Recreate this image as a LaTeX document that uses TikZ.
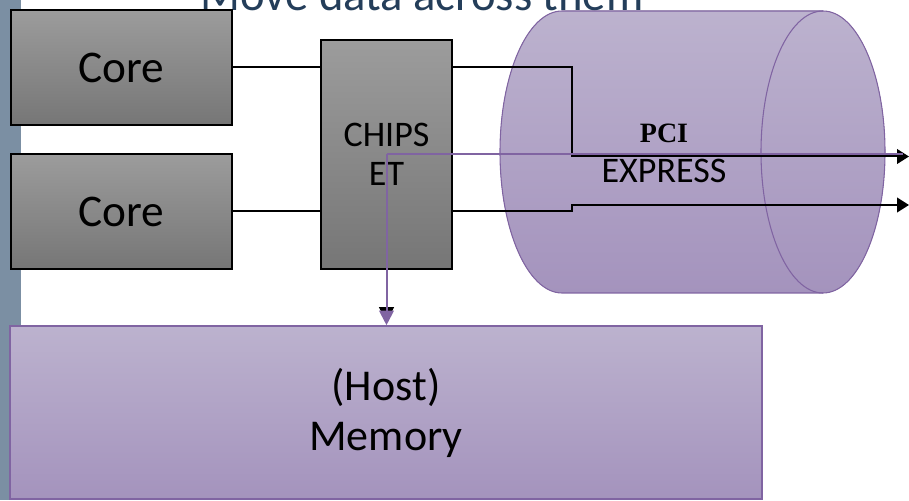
\documentclass[tikz,border=0pt]{standalone}
\usepackage{fontspec}
\setmainfont{Carlito}
\newfontfamily\pcifont{Liberation Serif}
\usepackage{xcolor}
\usepackage{tikz}
\usetikzlibrary{arrows.meta}
\definecolor{slidestrip}{RGB}{123, 143, 163}
\definecolor{titleblue}{RGB}{36, 62, 90}
\definecolor{boxtop}{RGB}{156, 156, 156}
\definecolor{boxbottom}{RGB}{118, 118, 118}
\definecolor{lilactop}{RGB}{188, 178, 206}
\definecolor{lilacbottom}{RGB}{164, 147, 189}
\definecolor{lilacline}{RGB}{128, 100, 162}
\tikzset{
  graybox/.style={draw=black, line width=1.5pt, top color=boxtop, bottom color=boxbottom, inner sep=0pt, align=center},
  lilacbox/.style={draw=lilacline, line width=1.2pt, top color=lilactop, bottom color=lilacbottom, inner sep=0pt, align=center},
  wire/.style={line width=1.5pt, black},
  bus/.style={line width=1.5pt, lilacline},
}

\begin{document}
\begin{tikzpicture}[x=0.75pt, y=0.75pt]
    \useasboundingbox (0,0) rectangle (909,500);
    \clip (0,0) rectangle (909,500);
    \fill[slidestrip] (0,0) rectangle (21,500);
    \node[titleblue, anchor=base, inner sep=0pt, font=\fontsize{35}{40}\selectfont] (title) at (422,489) {Move data across them};

    % PCI express pipe
    \fill[top color=lilactop, bottom color=lilacbottom] (562,489) -- (823,489)
        arc[start angle=90, end angle=-90, x radius=62, y radius=141] -- (562,207)
        arc[start angle=270, end angle=90, x radius=62, y radius=141] -- cycle;
    \draw[lilacline, line width=0.8pt] (562,489) -- (823,489)
        arc[start angle=90, end angle=-90, x radius=62, y radius=141] -- (562,207)
        arc[start angle=270, end angle=90, x radius=62, y radius=141] -- cycle;
    \draw[lilacline, line width=0.8pt] (823,489) arc[start angle=90, end angle=270, x radius=62, y radius=141];
    \coordinate (pcie) at (692,348);
    \node[anchor=base, inner sep=0pt, font=\pcifont\bfseries\fontsize{21}{24}\selectfont] (pci) at (664,357) {PCI};
    \node[anchor=base, inner sep=0pt, font=\fontsize{27}{30}\selectfont] (express) at (664,317) {EXPRESS};

    \node[graybox, minimum width=165.75pt, minimum height=86.25pt, font=\fontsize{34}{38}\selectfont] (core1) at (121.5,432.5) {Core};
    \node[graybox, minimum width=165.75pt, minimum height=86.25pt, font=\fontsize{34}{38}\selectfont] (core2) at (121.5,288.5) {Core};
    \node[graybox, minimum width=98.25pt, minimum height=171.75pt, font=\fontsize{27}{29}\selectfont] (chipset) at (386.5,345.5) {CHIPS\\ET};
    \node[lilacbox, minimum width=564pt, minimum height=129.75pt, font=\fontsize{33}{37.5}\selectfont] (memory) at (386,87.5) {(Host)\\Memory};

    \coordinate (bend1) at (572,343.5);
    \coordinate (out1) at (909,343.5);
    \coordinate (bend2) at (572,295);
    \coordinate (out2) at (909,295);
    \coordinate (busend) at (903,345.5);

    \draw[wire] (core1.east) -- (core1.east -| chipset.west);
    \draw[wire] (core2.east) -- (core2.east -| chipset.west);
    \draw[wire, -{Triangle[length=9pt, width=11pt]}] (core1.east -| chipset.east) -| (bend1) -- (out1);
    \draw[wire, -{Triangle[length=9pt, width=11pt]}] (core2.east -| chipset.east) -| (bend2) -- (out2);

    \draw[bus] (chipset.center) -- (chipset.center -| busend);
    \draw[wire, -{Triangle[length=11pt, width=11pt]}, shorten >=2.5pt] (chipset.center) -- (chipset.center |- memory.north);
    \draw[bus, -{Triangle[length=11pt, width=11pt]}] (chipset.center) -- (chipset.center |- memory.north);
\end{tikzpicture}
\end{document}
